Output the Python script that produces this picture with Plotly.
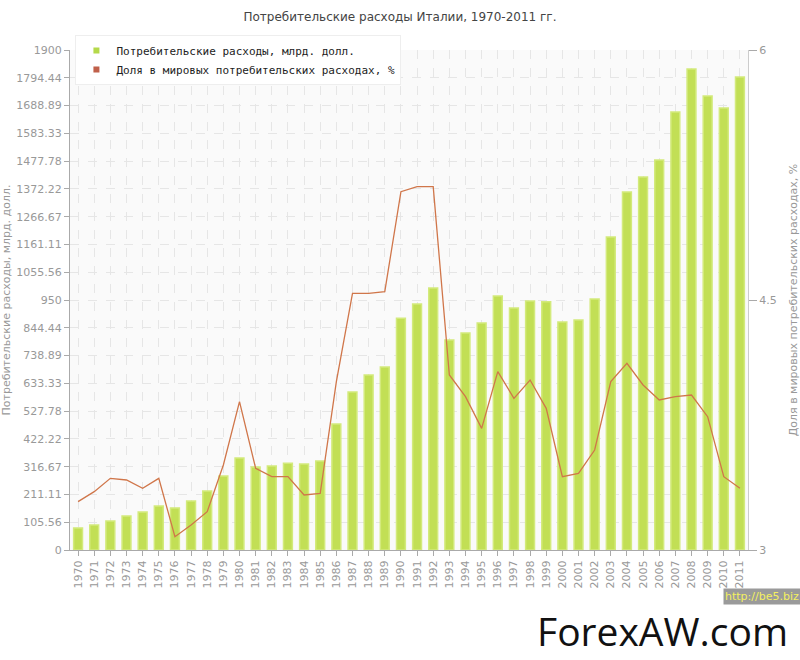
import plotly.graph_objects as go

years = [str(y) for y in range(1970, 2012)]
spending = [84, 95, 110, 129, 144, 167, 160, 186, 224, 281, 350, 315, 319, 330, 327, 338,
            479, 600, 665, 695, 881, 935, 996, 798, 825, 863, 965, 920, 946, 943,
            866, 874, 954, 1189, 1360, 1417, 1482, 1664, 1828, 1725, 1680, 1797]
share = [3.29, 3.35, 3.43, 3.42, 3.37, 3.43, 3.08, 3.15, 3.23, 3.51, 3.89, 3.49, 3.44, 3.44,
         3.33, 3.34, 4.01, 4.54, 4.54, 4.55, 5.15, 5.18, 5.18, 4.05, 3.92, 3.73, 4.07, 3.91,
         4.02, 3.85, 3.44, 3.46, 3.60, 4.01, 4.12, 3.99, 3.90, 3.92, 3.93, 3.80, 3.44, 3.37]
left_ticks = [1900 / 18 * i for i in range(19)]
left_labels = ["0", "105.56", "211.11", "316.67", "422.22", "527.78", "633.33", "738.89",
               "844.44", "950", "1055.56", "1161.11", "1266.67", "1372.22", "1477.78",
               "1583.33", "1688.89", "1794.44", "1900"]
right_ticks = [3, 4.5, 6]
names = ["Потребительские расходы, млрд. долл.", "Доля в мировых потребительских расходах, %"]

FONT = "DejaVu Sans"
GREY = "#999999"
BAR_C = "#c2df55"
LINE_C = "#d0764a"

fig = go.Figure()
fig.add_trace(go.Bar(
    x=years, y=spending, name=names[0], showlegend=False,
    marker=dict(color=BAR_C, line=dict(color="#d3ea7c", width=1.5)),
    yaxis="y"))
fig.add_trace(go.Scatter(
    x=years, y=share, name=names[1], showlegend=False,
    mode="lines", line=dict(color=LINE_C, width=1.3), yaxis="y2"))
# legend entries with small square markers
fig.add_trace(go.Scatter(x=[None], y=[None], mode="markers", name=names[0],
                         marker=dict(symbol="square", size=6, color="#b5d94a")))
fig.add_trace(go.Scatter(x=[None], y=[None], mode="markers", name=names[1],
                         marker=dict(symbol="square", size=6, color="#c0604a")))

fig.update_layout(
    width=800, height=660,
    margin=dict(l=70, r=52, t=50, b=110),
    paper_bgcolor="white", plot_bgcolor="#fafafa",
    bargap=0.45,
    font=dict(family=FONT, size=11, color=GREY),
    title=dict(text="Потребительские расходы Италии, 1970-2011 гг.",
               x=0.5, xanchor="center", y=0.975, yanchor="middle",
               font=dict(family=FONT, size=12, color="#444444")),
    showlegend=True,
    legend=dict(x=0.008, y=1.03, xanchor="left", yanchor="top",
                bgcolor="white", bordercolor="#eeeeee", borderwidth=1,
                font=dict(family="DejaVu Sans Mono", size=11, color="#222222"),
                itemwidth=30, tracegroupgap=0),
    xaxis=dict(type="category", tickangle=-90, showline=True, linecolor="#aaaaaa",
               ticks="outside", ticklen=5, tickcolor="#aaaaaa",
               showgrid=True, gridcolor="#e6e6e6", griddash="dash", automargin=False,
               tickfont=dict(family=FONT, size=11, color=GREY)),
    yaxis=dict(range=[0, 1900], tickvals=left_ticks, ticktext=left_labels,
               showline=True, linecolor="#aaaaaa", ticks="outside", ticklen=5,
               tickcolor="#aaaaaa", showgrid=True, gridcolor="#e6e6e6", griddash="dash",
               zeroline=False, automargin=False,
               title=dict(text=names[0],
                          font=dict(family=FONT, size=11, color=GREY))),
    yaxis2=dict(range=[3, 6], tickvals=right_ticks, ticktext=["3", "4.5", "6"],
                overlaying="y", side="right", showline=True, linecolor="#cccccc",
                ticks="outside", ticklen=8, tickcolor="#aaaaaa", showgrid=False,
                zeroline=False, automargin=False,
                title=dict(text=names[1],
                           font=dict(family=FONT, size=11, color=GREY))),
)

fig.add_annotation(text="http://be5.biz", xref="paper", yref="paper",
                   x=1.078, y=-0.093, xanchor="right", yanchor="middle", showarrow=False,
                   bgcolor="#9a9a9a", font=dict(family=FONT, size=11, color="#f4f060"))
fig.add_annotation(text="ForexAW.com", xref="paper", yref="paper",
                   x=1.062, y=-0.161, xanchor="right", yanchor="middle", showarrow=False,
                   font=dict(family="Open Sans", size=39, color="#111111"))

fig.write_html("out.html")
